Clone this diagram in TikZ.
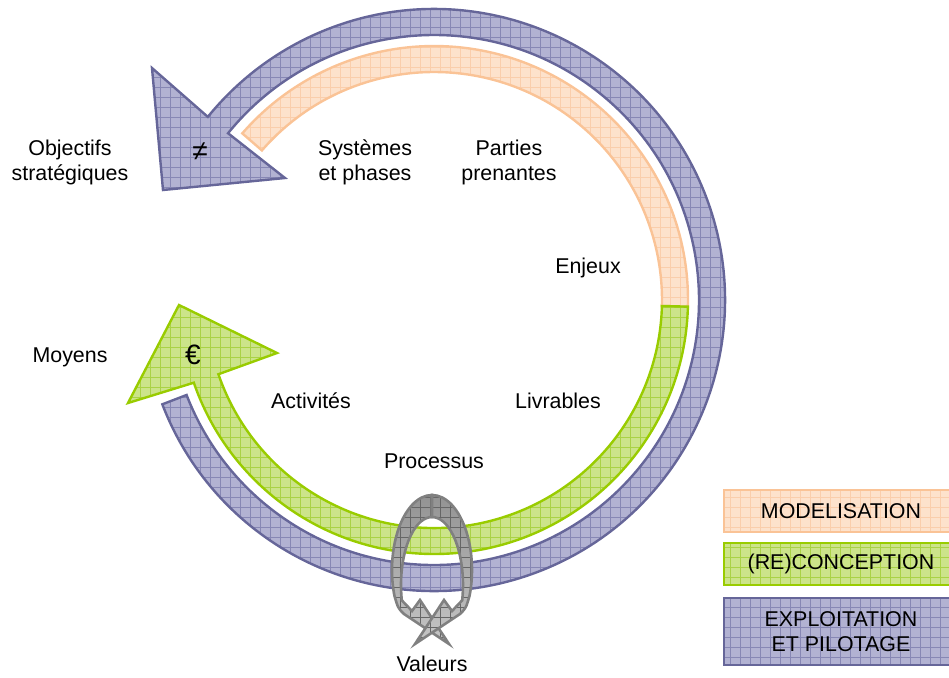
\documentclass[tikz,border=0pt]{standalone}
\usepackage{fontspec}
\setmainfont{Liberation Sans}
\usetikzlibrary{patterns.meta}
\definecolor{orfill}{RGB}{253,226,204}
\definecolor{orline}{RGB}{250,195,150}
\definecolor{orgrid}{RGB}{250,206,172}
\definecolor{grfill}{RGB}{204,228,138}
\definecolor{grline}{RGB}{153,204,0}
\definecolor{grgrid}{RGB}{170,210,70}
\definecolor{blfill}{RGB}{178,178,210}
\definecolor{blline}{RGB}{102,102,153}
\definecolor{blgrid}{RGB}{135,135,180}
\definecolor{gyline}{RGB}{128,128,128}
\begin{document}
\begin{tikzpicture}[x=0.5pt, y=0.5pt, font=\fontsize{10.7}{12.5}\selectfont,
  ring/.style n args={3}{preaction={fill=#2}, pattern={Hatch[angle=0,distance=5pt,line width=0.4pt]}, pattern color=#3, draw=#1, line width=1.2pt, line join=miter},
  loopy/.style={preaction={top color=gyline!85, bottom color=gyline!45}, pattern={Hatch[angle=0,distance=5pt,line width=0.4pt]}, pattern color=gyline!80!black, draw=gyline, line width=1.3pt},
  lbl/.style={align=center},
  sym/.style={font=\fontsize{14}{14}\selectfont},
  legend/.style n args={3}{ring={#1}{#2}{#3}, minimum width=117pt, align=center, inner sep=0pt}]
\useasboundingbox (-434,-377) rectangle (515,300);
\clip (-434,-377) rectangle (515,300);
\draw[ring={blline}{blfill}{blgrid}] (-159:291) arc[start angle=-159,end angle=141,radius=291] -- (-282,232) -- (-271,110) -- (-149,122) -- (141:265) arc[start angle=141,end angle=-159,radius=265] -- cycle;
\draw[ring={orline}{orfill}{orgrid}] (-1.5:254) arc[start angle=-1.5,end angle=139,radius=254] -- (139:228) arc[start angle=139,end angle=-1.5,radius=228] -- cycle;
\draw[ring={grline}{grfill}{grgrid}] (-1.5:254) arc[start angle=-1.5,end angle=-161,radius=254] -- (-306,-103) -- (-255,-5) -- (-157,-53) -- (-161:228) arc[start angle=-161,end angle=-1.5,radius=228] -- cycle;
\draw[loopy] (-2,-195) arc[start angle=90,end angle=200,x radius=40,y radius=75] .. controls (-36,-308) .. (-30,-314) -- (15,-344) -- (-14,-300) -- (-22,-311) -- (-32.2,-300.3) arc[start angle=193,end angle=90,x radius=31,y radius=68] -- cycle;
\draw[loopy] (-2,-195) arc[start angle=90,end angle=-20,x radius=40,y radius=75] .. controls (32,-308) .. (26,-314) -- (-19,-344) -- (10,-300) -- (18,-311) -- (28.2,-300.3) arc[start angle=-13,end angle=90,x radius=31,y radius=68] -- cycle;
\node[lbl] (obj) at (-364,138) {Objectifs\\stratégiques};
\node[sym] (neq) at (-234,148) {≠};
\node[lbl] (sys) at (-69,138) {Systèmes\\et phases};
\node[lbl] (parties) at (75,138) {Parties\\prenantes};
\node (enjeux) at (154,32) {Enjeux};
\node (moyens) at (-364,-57) {Moyens};
\node[sym] (euro) at (-241,-55) {€};
\node (activ) at (-123,-101) {Activités};
\node (livr) at (124,-101) {Livrables};
\node (proc) at (0,-161) {Processus};
\node (val) at (-2,-364) {Valeurs};
\node[legend={orline}{orfill}{orgrid}, minimum height=21pt] (modbox) at (407,-211) {MODELISATION};
\node[legend={grline}{grfill}{grgrid}, minimum height=21pt] (recbox) at (407,-264) {(RE)CONCEPTION};
\node[legend={blline}{blfill}{blgrid}, minimum height=33.5pt] (expbox) at (407,-331.5) {EXPLOITATION\\ET PILOTAGE};
\end{tikzpicture}
\end{document}
